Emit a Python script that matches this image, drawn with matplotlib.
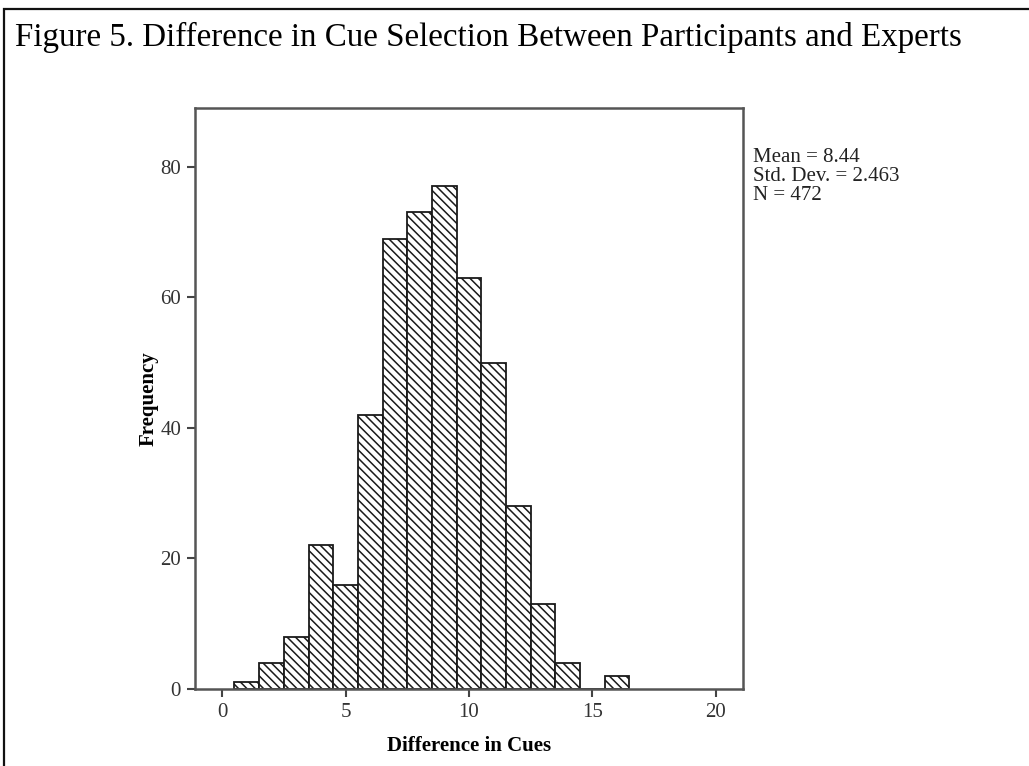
"""Histogram of cue-selection differences between participants and experts."""

import matplotlib.pyplot as plt
from matplotlib.patches import Rectangle

# Frequencies per whole-cue difference
cue_diff = [1, 2, 3, 4, 5, 6, 7, 8, 9, 10, 11, 12, 13, 14, 15, 16]
frequency = [1, 4, 8, 22, 16, 42, 69, 73, 77, 63, 50, 28, 13, 4, 0, 2]
x_ticks = [0, 5, 10, 15, 20]
y_ticks = [0, 20, 40, 60, 80]
stats_lines = ["Mean = 8.44", "Std. Dev. = 2.463", "N = 472"]

TITLE = "Figure 5. Difference in Cue Selection Between Participants and Experts"


def main() -> None:
    plt.rcParams["font.family"] = ["Liberation Serif", "DejaVu Serif"]
    plt.rcParams["hatch.linewidth"] = 1.1
    plt.rcParams["hatch.color"] = "#2a2a2a"

    W, H = 1029, 766
    fig = plt.figure(figsize=(W / 100, H / 100), dpi=100)

    # outer frame (top and left edges visible in the source)
    fig.add_artist(Rectangle((4 / W, -0.05), 1.2, (H - 9) / H + 0.05,
                             transform=fig.transFigure, fill=False,
                             edgecolor="#111111", linewidth=1.6))
    fig.text(15 / W, 1 - 46 / H, TITLE, fontsize=23.8, ha="left",
             va="baseline", color="black")

    left, right, top, bottom = 195, 743, 108, 689
    ax = fig.add_axes([left / W, 1 - bottom / H, (right - left) / W,
                       (bottom - top) / H])

    ax.bar(cue_diff, frequency, width=1.0, facecolor="white",
           edgecolor="#1a1a1a", linewidth=1.3, hatch="\\\\\\\\")

    ax.set_xlim(-1.1, 21.1)
    ax.set_ylim(0, 89)
    ax.set_xticks(x_ticks)
    ax.set_yticks(y_ticks)
    ax.tick_params(axis="both", labelsize=15, length=6, width=1.5,
                   color="#444444", labelcolor="#333333", pad=4)
    for side in ax.spines.values():
        side.set_linewidth(1.8)
        side.set_color("#555555")

    ax.set_xlabel("Difference in Cues", fontsize=15, fontweight="bold",
                  labelpad=10)
    ax.set_ylabel("Frequency", fontsize=15, fontweight="bold", labelpad=1)

    fig.text(753 / W, 1 - 148 / H, "\n".join(stats_lines), fontsize=15,
             ha="left", va="top", color="#222222", linespacing=1.0)

    fig.savefig("out.png", dpi=100)
    plt.close(fig)


if __name__ == "__main__":
    main()
